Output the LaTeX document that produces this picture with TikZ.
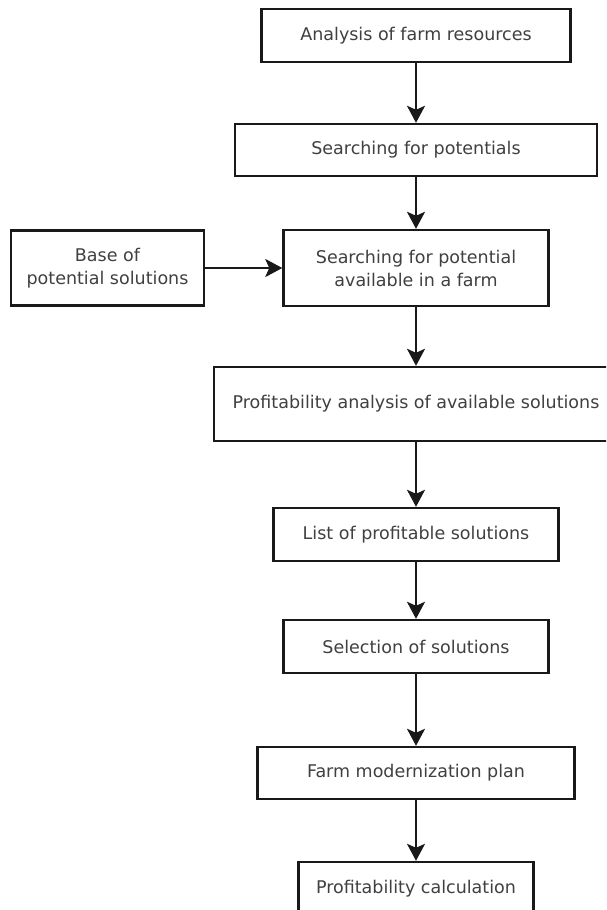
\documentclass[tikz,border=0pt]{standalone}
\usepackage{fontspec}
\setmainfont{DejaVu Sans}
\usetikzlibrary{arrows.meta}
\begin{document}
\begin{tikzpicture}[x=1pt,y=-1pt,
  box/.style={draw=black!90, line width=2.4pt, inner sep=0pt, align=center,
    font=\fontsize{17.5}{23}\selectfont, text=black!75},
  flow/.style={-{Stealth[length=17pt,width=18pt,inset=4pt]}, line width=2.4pt, draw=black!90}]
\useasboundingbox (0,0) rectangle (606,910);
\clip (0,0) rectangle (606,910);
\fill[white] (0,0) rectangle (606,910);
\node[box, minimum width=309pt, minimum height=53pt] (a) at (416,35.5) {Analysis of farm resources};
\node[box, minimum width=362pt, minimum height=52pt] (b) at (416,150) {Searching for potentials};
\node[box, minimum width=265pt, minimum height=76pt] (c) at (416,268) {Searching for potential\\available in a farm};
\node[box, minimum width=193pt, minimum height=75pt] (base) at (107.5,268) {Base of\\potential solutions};
\node[box, minimum width=404pt, minimum height=74pt] (d) at (416,404) {Profitability analysis of available solutions};
\node[box, minimum width=285pt, minimum height=53pt] (e) at (416,534.5) {List of profitable solutions};
\node[box, minimum width=265pt, minimum height=53pt] (f) at (416,646.5) {Selection of solutions};
\node[box, minimum width=317pt, minimum height=52pt] (g) at (416,773) {Farm modernization plan};
\node[box, minimum width=235pt, minimum height=53pt] (h) at (416,888.5) {Profitability calculation};
\draw[flow] (a.south) -- (b.north);
\draw[flow] (b.south) -- (c.north);
\draw[flow] (base.east) -- (c.west);
\draw[flow] (c.south) -- (d.north);
\draw[flow] (d.south) -- (e.north);
\draw[flow] (e.south) -- (f.north);
\draw[flow] (f.south) -- (g.north);
\draw[flow] (g.south) -- (h.north);
\end{tikzpicture}
\end{document}
